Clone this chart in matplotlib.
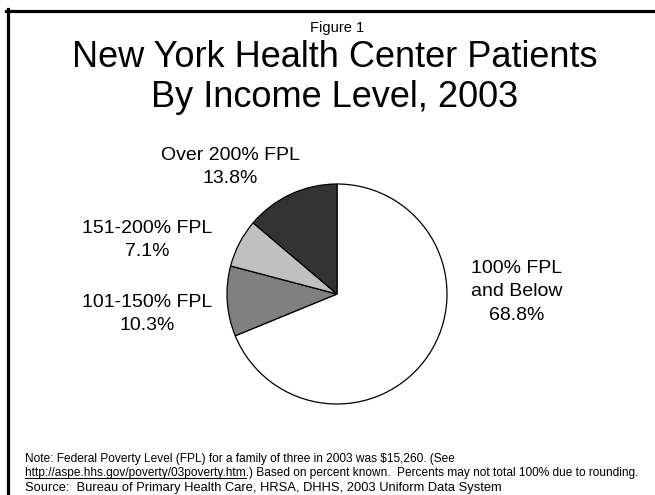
import matplotlib.pyplot as plt
from matplotlib.lines import Line2D

plt.rcParams['font.family'] = ['Liberation Sans', 'DejaVu Sans']

# Daten
labels = ["100% FPL\nand Below", "101-150% FPL", "151-200% FPL", "Over 200% FPL"]
shares = [68.8, 10.3, 7.1, 13.8]
colors = ['#FFFFFF', '#808080', '#C0C0C0', '#333333']
# Label-Positionen (Pixel von oben links)
label_pos = [(517, 292), (147, 314), (147, 240), (230, 167)]

W, H = 655, 495
fig = plt.figure(figsize=(W / 100, H / 100), dpi=100)

# Rahmen oben und links
fig.add_artist(Line2D([6 / W, 1], [1 - 10.5 / H, 1 - 10.5 / H], color='black', lw=2.3, transform=fig.transFigure))
fig.add_artist(Line2D([7.5 / W, 7.5 / W], [1 - 9 / H, 0], color='black', lw=2.3, transform=fig.transFigure))

# Titel
fig.text(337.5 / W, 1 - 31.7 / H, "Figure 1", ha='center', va='baseline', fontsize=10.5)
fig.text(334.5 / W, 1 - 67 / H, "New York Health Center Patients", ha='center', va='baseline', fontsize=26)
fig.text(334.5 / W, 1 - 107 / H, "By Income Level, 2003", ha='center', va='baseline', fontsize=26)

# Tortendiagramm
cx, cy, r = 337, 294, 110
ax = fig.add_axes([(cx - r) / W, (H - cy - r) / H, 2 * r / W, 2 * r / H])
ax.pie(shares, colors=colors, startangle=90, counterclock=False,
       wedgeprops=dict(edgecolor='black', linewidth=0.9))
ax.set_xlim(-1, 1)
ax.set_ylim(-1, 1)
ax.set_aspect('equal')
ax.axis('off')

for lab, val, (px, py) in zip(labels, shares, label_pos):
    fig.text(px / W, 1 - py / H, f"{lab}\n{val}%", ha='center', va='center',
             fontsize=14, linespacing=1.5)

# Fussnoten
note_size = 8.6
url = "http://aspe.hhs.gov/poverty/03poverty.htm"
fig.text(25 / W, 1 - 462 / H, "Note: Federal Poverty Level (FPL) for a family of three in 2003 was $15,260. (See",
         ha='left', va='baseline', fontsize=note_size)
fig.text(25 / W, 1 - 476 / H,
         url + ".) Based on percent known.  Percents may not total 100% due to rounding.",
         ha='left', va='baseline', fontsize=note_size)
fig.text(25 / W, 1 - 491 / H, "Source:  Bureau of Primary Health Care, HRSA, DHHS, 2003 Uniform Data System",
         ha='left', va='baseline', fontsize=9.3)

# Unterstreichung fuer den Link
fig.canvas.draw()
tmp = fig.text(25 / W, 1 - 476 / H, url, ha='left', va='baseline', fontsize=note_size)
bb = tmp.get_window_extent(renderer=fig.canvas.get_renderer())
tmp.remove()
uy = (H - 476 - 1.5) / H
fig.add_artist(Line2D([bb.x0 / W, bb.x1 / W], [uy, uy],
                      color='black', lw=0.8, transform=fig.transFigure))

fig.savefig('out.png', dpi=100)
